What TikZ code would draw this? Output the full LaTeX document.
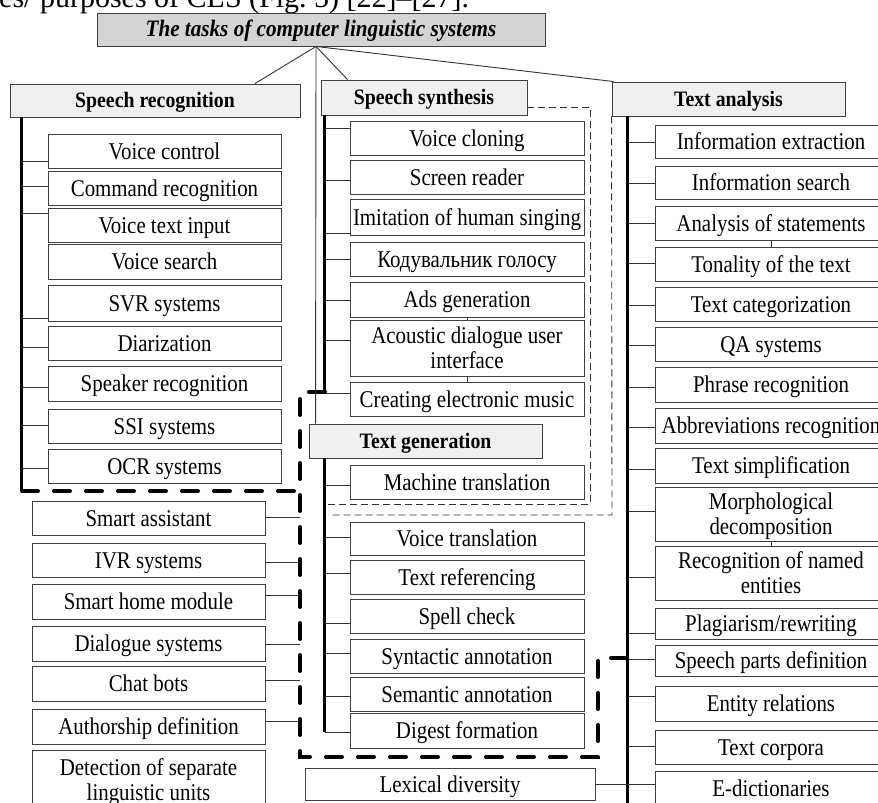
\documentclass[tikz,border=0pt]{standalone}
\usepackage{fontspec}
\setmainfont{Liberation Serif}[FakeStretch=0.87]
\newfontfamily\headfont{Liberation Serif}[FakeStretch=0.9]
\newfontfamily\leadfont{Liberation Serif}[Ligatures=TeX]
\newcommand\twolines[2]{\begin{tabular}[t]{@{}c@{}}#1\\#2\end{tabular}}
\begin{document}
\begin{tikzpicture}[x=1pt,y=-1pt,
  leaf/.style={draw=black!75, line width=0.9pt, fill=white, inner sep=0pt,
    text height=20pt, text depth=4pt, font=\fontsize{24}{25}\selectfont},
  twoline/.style={text height=20pt, text depth=29pt},
  head/.style={draw=black!75, line width=0.9pt, fill=black!6, inner sep=0pt,
    text height=18pt, text depth=4pt, font=\headfont\bfseries\fontsize{22}{24}\selectfont},
  rootbox/.style={draw=black!75, line width=0.9pt, fill=black!17, inner sep=0pt,
    text height=18pt, text depth=4pt, font=\headfont\bfseries\itshape\fontsize{23.5}{25}\selectfont},
  link/.style={draw=black!80, line width=0.9pt},
  spine/.style={draw=black, line width=3.5pt},
  finedash/.style={draw=black!80, line width=0.9pt, dash pattern=on 7pt off 4pt},
  heavydash/.style={draw=black, line width=4pt, line cap=round, dash pattern=on 16pt off 16pt},
  lcol/.style={leaf, minimum width=233pt},
  gcol/.style={leaf, minimum width=233pt},
  mcol/.style={leaf, minimum width=234pt},
  rcol/.style={leaf, minimum width=232pt}
]
\useasboundingbox (0,0) rectangle (878,803);
\clip (0,0) rectangle (878,803);

% running text line above the chart
\node[anchor=base west, inner sep=0pt, font=\leadfont\fontsize{30}{32}\selectfont] (lead) at (-1,8)
  {es/ purposes of CLS (Fig.~5) [22]–[27].};

% root and the four group headers
\node[rootbox, minimum width=448pt, minimum height=33pt] (root) at (321,29.5)
  {The tasks of computer linguistic systems};
\node[head, minimum width=290pt, minimum height=33pt] (sr) at (155,100.5) {Speech recognition};
\node[head, minimum width=206pt, minimum height=35pt] (ss) at (424,97.5) {Speech synthesis};
\node[head, minimum width=233pt, minimum height=34pt] (ta) at (728.5,99) {Text analysis};
\node[head, minimum width=233pt, minimum height=34pt] (tg) at (425.5,441) {Text generation};

% speech recognition tasks
\node[lcol, minimum height=34pt] (vc)  at (164.5,151)   {Voice control};
\node[lcol, minimum height=34pt] (cr)  at (164.5,188)   {Command recognition};
\node[lcol, minimum height=34pt] (vti) at (164.5,225)   {Voice text input};
\node[lcol, minimum height=35pt] (vs)  at (164.5,261.5) {Voice search};
\node[lcol, minimum height=36pt] (svr) at (164.5,303)   {SVR systems};
\node[lcol, minimum height=34pt] (dia) at (164.5,343)   {Diarization};
\node[lcol, minimum height=35pt] (spk) at (164.5,383.5) {Speaker recognition};
\node[lcol, minimum height=34pt] (ssi) at (164.5,426)   {SSI systems};
\node[lcol, minimum height=34pt] (ocr) at (164.5,466)   {OCR systems};

% shared speech tasks
\node[gcol, minimum height=34pt] (sa)  at (148.5,518)   {Smart assistant};
\node[gcol, minimum height=34pt] (ivr) at (148.5,560)   {IVR systems};
\node[gcol, minimum height=35pt] (shm) at (148.5,601.5) {Smart home module};
\node[gcol, minimum height=35pt] (ds)  at (148.5,643.5) {Dialogue systems};
\node[gcol, minimum height=35pt] (cb)  at (148.5,683.5) {Chat bots};
\node[gcol, minimum height=35pt] (ad)  at (148.5,726.5) {Authorship definition};
\node[gcol, twoline, minimum height=60pt] (det) at (148.5,780)
  {\twolines{Detection of separate}{linguistic units}};

% speech synthesis tasks
\node[mcol, minimum height=34pt] (vcl)  at (467,138)   {Voice cloning};
\node[mcol, minimum height=34pt] (srd)  at (467,177)   {Screen reader};
\node[mcol, minimum height=36pt] (ihs)  at (467,217)   {Imitation of human singing};
\node[mcol, minimum height=34pt] (kod)  at (467,259)   {Кодувальник голосу};
\node[mcol, minimum height=35pt] (ads)  at (467,299.5) {Ads generation};
\node[mcol, twoline, minimum height=56pt] (adui) at (467,348)
  {\twolines{Acoustic dialogue user}{interface}};
\node[mcol, minimum height=34pt] (cem)  at (467,399)   {Creating electronic music};

% text generation tasks
\node[mcol, minimum height=34pt] (mt)   at (467,482)   {Machine translation};
\node[mcol, minimum height=33pt] (vt)   at (467,538.5) {Voice translation};
\node[mcol, minimum height=34pt] (tr)   at (467,577)   {Text referencing};
\node[mcol, minimum height=34pt] (sc)   at (467,616)   {Spell check};
\node[mcol, minimum height=34pt] (syn)  at (467,656)   {Syntactic annotation};
\node[mcol, minimum height=34pt] (sem)  at (467,694)   {Semantic annotation};
\node[mcol, minimum height=35pt] (df)   at (467,730.5) {Digest formation};
\node[leaf, minimum width=290pt, minimum height=32pt] (ld) at (450,784) {Lexical diversity};

% text analysis tasks
\node[rcol, minimum height=33pt] (ie)  at (771,141.5) {Information extraction};
\node[rcol, minimum height=33pt] (is)  at (771,182.5) {Information search};
\node[rcol, minimum height=34pt] (as)  at (771,223)   {Analysis of statements};
\node[rcol, minimum height=34pt] (tt)  at (771,264)   {Tonality of the text};
\node[rcol, minimum height=34pt] (tc)  at (771,304)   {Text categorization};
\node[rcol, minimum height=34pt] (qa)  at (771,344)   {QA systems};
\node[rcol, minimum height=35pt] (pr)  at (771,384.5) {Phrase recognition};
\node[rcol, minimum height=35pt] (ar)  at (771,425.5) {Abbreviations recognition};
\node[rcol, minimum height=35pt] (ts)  at (771,465.5) {Text simplification};
\node[rcol, twoline, minimum height=54pt] (md)  at (771,514)
  {\twolines{Morphological}{decomposition}};
\node[rcol, twoline, minimum height=54pt] (rne) at (771,573)
  {\twolines{Recognition of named}{entities}};
\node[rcol, minimum height=31pt] (pl)  at (771,623.5) {Plagiarism/rewriting};
\node[rcol, minimum height=31pt] (spd) at (771,660.5) {Speech parts definition};
\node[rcol, minimum height=35pt] (er)  at (771,703.5) {Entity relations};
\node[rcol, minimum height=34pt] (tco) at (771,747)   {Text corpora};
\node[rcol, minimum height=34pt] (ed)  at (771,788)   {E-dictionaries};

% links from the root
\draw[link] ([xshift=-5pt]root.south) -- ([xshift=100pt]sr.north);
\draw[link] ([xshift=-5pt]root.south) -- ([xshift=27pt]ss.north west);
\draw[link] ([xshift=-5pt]root.south) -- ([xshift=2pt]ta.north west);
\draw[link] ([xshift=-5pt]root.south) -- ([xshift=7pt]tg.north west);

% spines
\draw[spine] ([xshift=12pt]sr.south west) -- ++(0,373);
\draw[spine] ([xshift=4pt]ss.south west) -- ++(0,278);
\draw[spine] ([xshift=16pt]tg.south west) -- ++(0,274);
\draw[spine] ([xshift=16pt]ta.south west) -- ++(0,700);

% branches: speech recognition
\foreach \n/\s in {vc/-10, cr/2, vti/12, svr/-15, dia/-4, spk/-3.5, ssi/1, ocr/-2}
  \draw[link] ([yshift=\s pt]\n.west) -- ++(-26,0);
% branches: shared speech tasks
\foreach \n/\s in {sa/1, ivr/-2, shm/6.5, ds/-0.5, cb/3.5, ad/5.5}
  \draw[link] ([yshift=\s pt]\n.east) -- ++(35,0);
% branches: speech synthesis and text generation
\foreach \n/\s in {vcl/10, srd/-3, ihs/-16, kod/0, ads/-0.5, adui/8, cem/6,
                   mt/-3, vt/1.5, tr/4, sc/-7, syn/3, sem/-2, df/-1.5}
  \draw[link] ([yshift=\s pt]\n.west) -- ++(-25,0);
% branches: text analysis
\foreach \n/\s in {ie/-0.5, is/-0.5, as/0, tt/1, tc/-1, qa/-1, pr/-2.5, ar/-1.5,
                   ts/-3.5, md/3, rne/-4, pl/-9.5, spd/1.5, er/7.5, tco/1}
  \draw[link] ([yshift=\s pt]\n.west) -- ++(-27,0);
\draw[link] (ld.east) -- (ld.east -| ed.west);

% short ties between stacked boxes
\draw[link] (ads.south) -- (adui.north);
\draw[link] (adui.south) -- (cem.north);
\draw[link] (as.south) -- (tt.north);
\draw[link] (md.south) -- (rne.north);

% thin dashed outlines
\draw[finedash] ([yshift=-9.5pt]ss.east) -- (590,107) -- (590,504) -- (327,504);
\draw[finedash] (ta.south west) -- (612,515) -- (330,515);

% heavy dashed outline of the speech group
\draw[heavydash] (325,392) -- (300,392) -- (300,757) -- (598,757) -- (598,658) -- (628,658);
\draw[heavydash] (22,491) -- (300,491);
\end{tikzpicture}
\end{document}
